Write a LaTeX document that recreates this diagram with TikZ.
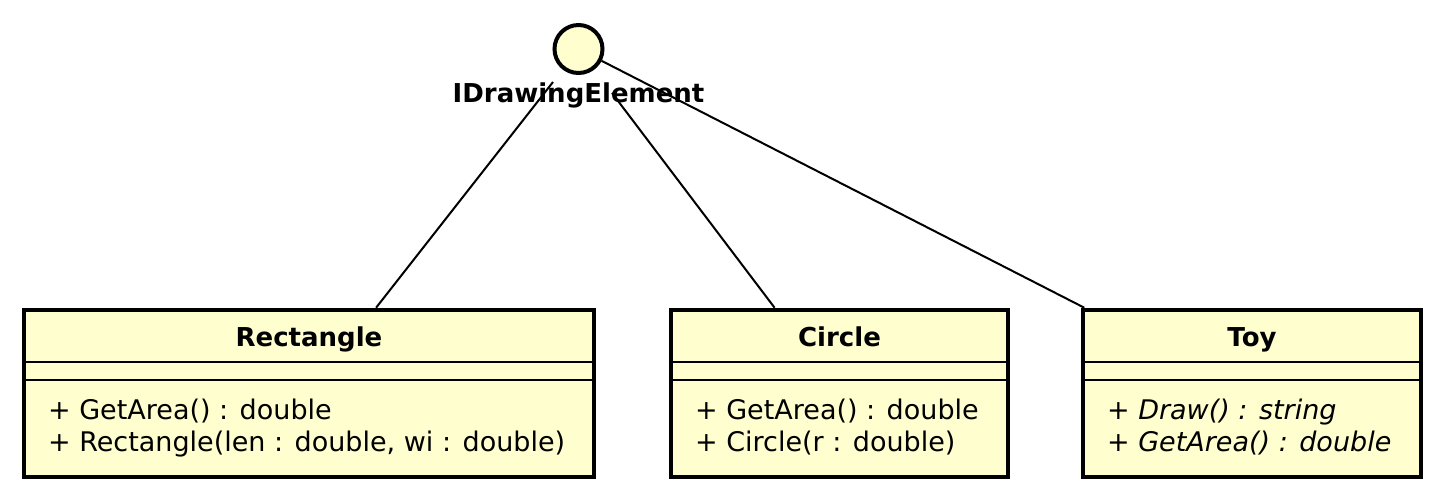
\documentclass[tikz,border=0pt]{standalone}
\usepackage{fontspec}
\setmainfont{DejaVu Sans}
\usepackage{xcolor}
\usetikzlibrary{positioning}

\definecolor{umlfill}{HTML}{FEFECE}

\tikzset{
    clsbox/.style={draw, fill=umlfill, line width=2.3pt, inner sep=0pt, rectangle},
    clstitle/.style={font=\fontsize{13}{15}\selectfont\bfseries, inner sep=0pt, anchor=base},
    clsmeth/.style={font=\fontsize{13.5}{16}\selectfont, inner sep=0pt, anchor=base west},
    sepline/.style={line width=1pt},
    linkline/.style={line width=1pt}
}

\begin{document}
\begin{tikzpicture}[x=0.5pt, y=-0.5pt]
        \useasboundingbox (0,0) rectangle (1444,500);

        % interface
        \node[circle, draw, fill=umlfill, line width=2pt, minimum size=24pt, inner sep=0pt] (iface) at (578.5,49) {};
        \node[clstitle] (ifacename) at (578.5,102) {IDrawingElement};

        % class Rectangle
        \node[clsbox, minimum width=285pt, minimum height=83.5pt] (rectcls) at (309,393.5) {};
        \node[clstitle] (rectname) at ([yshift=-19.5pt]rectcls.north) {Rectangle};
        \draw[sepline] ([yshift=-27pt]rectcls.north west) -- ([yshift=-27pt]rectcls.north east);
        \draw[sepline] ([yshift=-36pt]rectcls.north west) -- ([yshift=-36pt]rectcls.north east);
        \node[clsmeth] (rectm1) at ([xshift=13pt, yshift=-56pt]rectcls.north west) {+ GetArea() : double};
        \node[clsmeth] (rectm2) at ([xshift=13pt, yshift=-72pt]rectcls.north west) {+ Rectangle(len : double, wi : double)};

        % class Circle
        \node[clsbox, minimum width=168.5pt, minimum height=83.5pt] (circcls) at (839.5,393.5) {};
        \node[clstitle] (circname) at ([yshift=-19.5pt]circcls.north) {Circle};
        \draw[sepline] ([yshift=-27pt]circcls.north west) -- ([yshift=-27pt]circcls.north east);
        \draw[sepline] ([yshift=-36pt]circcls.north west) -- ([yshift=-36pt]circcls.north east);
        \node[clsmeth] (circm1) at ([xshift=13pt, yshift=-56pt]circcls.north west) {+ GetArea() : double};
        \node[clsmeth] (circm2) at ([xshift=13pt, yshift=-72pt]circcls.north west) {+ Circle(r : double)};

        % class Toy
        \node[clsbox, minimum width=169pt, minimum height=83.5pt] (toycls) at (1252,393.5) {};
        \node[clstitle] (toyname) at ([yshift=-19.5pt]toycls.north) {Toy};
        \draw[sepline] ([yshift=-27pt]toycls.north west) -- ([yshift=-27pt]toycls.north east);
        \draw[sepline] ([yshift=-36pt]toycls.north west) -- ([yshift=-36pt]toycls.north east);
        \node[clsmeth, font=\fontsize{13.5}{16}\selectfont\itshape] (toym1) at ([xshift=13pt, yshift=-56pt]toycls.north west) {+ Draw() : string};
        \node[clsmeth, font=\fontsize{13.5}{16}\selectfont\itshape] (toym2) at ([xshift=13pt, yshift=-72pt]toycls.north west) {+ GetArea() : double};

        % realisations
        \coordinate (recttip) at (553,82);
        \coordinate (circtip) at (612,93);
        \draw[linkline] (rectcls) -- (recttip);
        \draw[linkline] (circcls) -- (circtip);
        \draw[linkline] (toycls) -- (iface);
\end{tikzpicture}
\end{document}
